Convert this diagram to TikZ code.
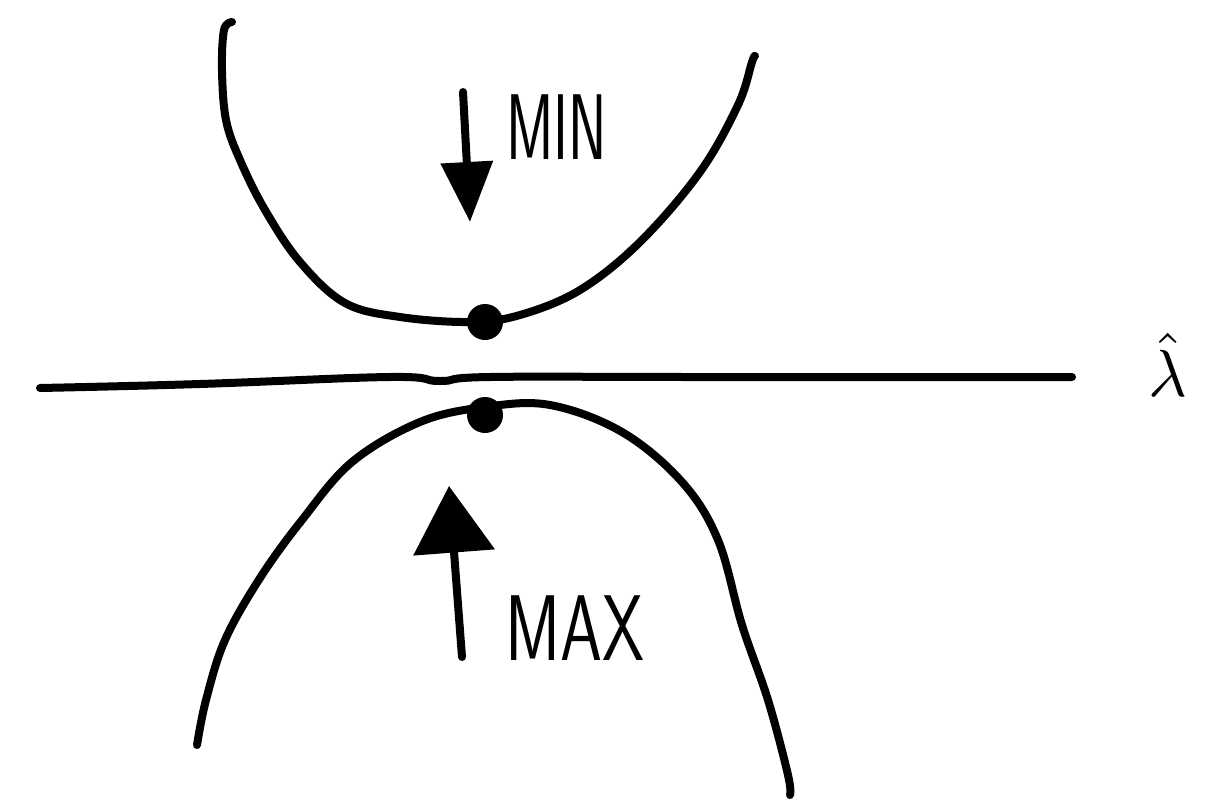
\documentclass[tikz,border=0pt]{standalone}
\usepackage{fontspec}
\usetikzlibrary{arrows.meta}
\begin{document}
\begin{tikzpicture}[x=0.75pt,y=-0.75pt,
  ink/.style={line width=6pt,line cap=round,line join=round,black},
  dotnode/.style={circle,fill=black,inner sep=0pt,minimum size=27pt},
  lbl/.style={font=\sffamily\fontsize{70pt}{80pt}\selectfont,inner sep=0pt}]
\useasboundingbox (0,0) rectangle (1219,803);
% upper curve
\draw[ink] plot[smooth,tension=0.6] coordinates {(232,22) (224,30) (222,70) (226,120) (240,160) (265,210) (300,262) (345,303) (400,317) (470,322) (520,315) (580,290) (640,242) (700,172) (738,105) (752,62) (755,56)};
% lower curve
\draw[ink] plot[smooth,tension=0.6] coordinates {(197,745) (206,700) (225,640) (260,578) (302,520) (352,462) (420,422) (485,407) (550,405) (622,432) (682,482) (718,540) (742,625) (768,700) (788,775) (790,795)};
% axis
\draw[ink] plot[smooth,tension=0.7] coordinates {(40,388) (200,384) (390,377) (440,381) (490,377) (700,377) (1072,377)};
% dots
\node[dotnode] (d1) at (485,322) {};
\node[dotnode] (d2) at (485,415) {};
% arrows
\coordinate (m1) at (463,92);
\coordinate (m2) at (470,222);
\draw[ink,-{Triangle[length=45pt,width=38pt]}] (m1) -- (m2);
\coordinate (x1) at (462,657);
\coordinate (x2) at (449,486);
\draw[ink,-{Triangle[length=50pt,width=60pt]}] (x1) -- (x2);
% labels
\node[lbl,xscale=0.62,anchor=west] (min) at (506,127) {MIN};
\node[lbl,xscale=0.72,anchor=west] (max) at (505,628) {MAX};
\node[inner sep=0pt,scale=5] (lam) at (1168,365) {$\hat{\lambda}$};
\end{tikzpicture}
\end{document}
